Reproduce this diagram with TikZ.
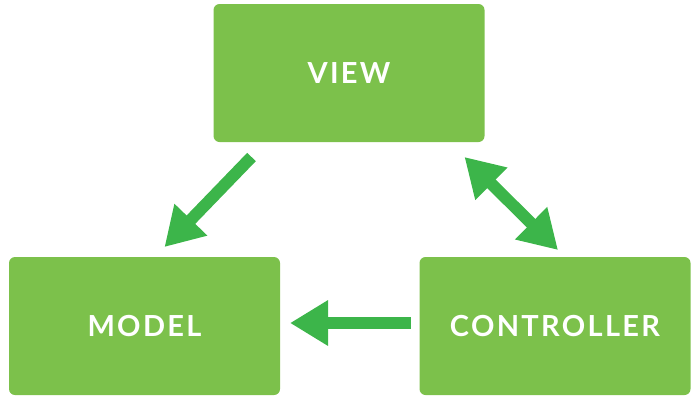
\documentclass[tikz,border=0pt]{standalone}
\usepackage{fontspec}
\setmainfont{Lato}[LetterSpace=8]
\usetikzlibrary{arrows.meta}
\definecolor{leaf}{RGB}{124,193,75}
\definecolor{grass}{RGB}{60,181,74}

\begin{document}
\begin{tikzpicture}[x=1pt,y=-1pt,
  box/.style={fill=leaf,rounded corners=6pt,outer sep=0pt,minimum width=271pt,minimum height=138pt,text=white,font=\fontsize{29}{34}\selectfont\bfseries},
  flow/.style={draw=grass,line width=12pt,-{Triangle[length=38pt,width=43pt]}},
  bothflow/.style={flow,{Triangle[length=38pt,width=43pt]}-{Triangle[length=38pt,width=43pt]}}]
  \useasboundingbox (0,0) rectangle (700,400);
  \node[box] (view) at (349,73) {VIEW};
  \node[box] (model) at (144.5,326) {MODEL};
  \node[box] (controller) at (555,326) {CONTROLLER};
  \draw[flow] ([shift={(38,15)}]view.south west) -- ([shift={(20,-10)}]model.north);
  \draw[bothflow] ([shift={(-20,15)}]view.south east) -- ([shift={(3,-7)}]controller.north);
  \draw[flow] ([shift={(-9,-3)}]controller.west) -- ([shift={(10,-3)}]model.east);
\end{tikzpicture}
\end{document}
